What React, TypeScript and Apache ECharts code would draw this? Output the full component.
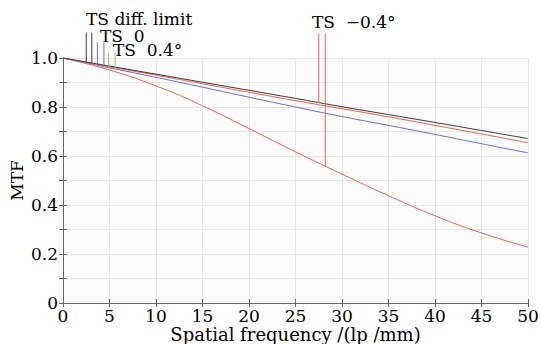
import React, { useEffect, useRef } from "react";
import * as echarts from "echarts";

// Spatial frequency (lp/mm)
const freq = [0, 5, 10, 15, 20, 25, 30, 35, 40, 45, 50];
// MTF curves
const diffLimit = [1.0, 0.967, 0.934, 0.901, 0.868, 0.835, 0.801, 0.769, 0.737, 0.704, 0.671];
const tsZero = [1.0, 0.960, 0.921, 0.881, 0.840, 0.800, 0.761, 0.725, 0.688, 0.650, 0.613];
const sMinus04 = [1.0, 0.964, 0.930, 0.895, 0.860, 0.826, 0.793, 0.760, 0.725, 0.690, 0.654];
const tMinus04 = [1.0, 0.951, 0.886, 0.805, 0.712, 0.617, 0.526, 0.438, 0.356, 0.286, 0.228];

// Legend marker lines (x position, top value, bottom value)
const diffMarkX = [2.5, 3.1];
const diffMarkBottom = [0.984, 0.98];
const diffMarkTop = 1.104;
const zeroMarkX = [3.7, 4.4];
const zeroMarkBottom = [0.972, 0.966];
const zeroMarkTop = 1.063;
const posMarkX = [4.9, 5.6];
const posMarkBottom = [0.962, 0.957];
const posMarkTop = 1.022;
const negMarkX = [27.5, 28.2];
const negMarkBottom = [0.815, 0.556];
const negMarkTop = 1.1;

const labels = ["TS diff. limit", "TS\u00a0\u00a00", "TS\u00a0\u00a00.4°", "TS\u00a0\u00a0\u22120.4°"];

const BLACK = "#3a3a3a";
const RED = "#f0604c";
const BLUE = "#6b6bcc";
const GREEN = "#86c986";
const FONT = '"DejaVu Serif", serif';

function curve(vals: number[]) {
  return freq.map((f, i) => [f, vals[i]]);
}

function markers(xs: number[], bottoms: number[], top: number, color: string, name: string) {
  return xs.map((x, i) => ({
    name: name + i,
    type: "line",
    data: [
      [x, top],
      [x, bottoms[i]],
    ],
    clip: false,
    symbol: "none",
    lineStyle: { color, width: 1 },
    z: 5,
  }));
}

export default function App() {
  const ref = useRef<HTMLDivElement>(null);
  useEffect(() => {
    document.body.style.margin = "0";
    const chart = echarts.init(ref.current!, undefined, { renderer: "svg" });
    const axisLine = { show: true, lineStyle: { color: "#666", width: 1 } };
    const tick = { show: true, inside: true, length: 4, lineStyle: { color: "#666" } };
    const labelStyle = { color: "#000", fontSize: 17, fontFamily: FONT };
    const tStyle = (text: string) => ({ text, font: "17px " + FONT, fill: "#000", lineHeight: 14 });
    chart.setOption({
      animation: false,
      backgroundColor: "#fff",
      grid: {
        left: 63,
        right: 13,
        top: 58,
        bottom: 41,
        show: true,
        backgroundColor: "#fbfbfb",
        borderWidth: 0,
        containLabel: false,
        outerBoundsMode: "none",
      },
      xAxis: [
        {
          type: "value",
          min: 0,
          max: 50,
          interval: 5,
          position: "bottom",
          axisLine,
          axisTick: tick,
          splitLine: { show: true, lineStyle: { color: "#e6e6e6", width: 1 } },
          axisLabel: { ...labelStyle, margin: 5, lineHeight: 15 },
          name: "Spatial frequency /(lp /mm)",
          nameLocation: "middle",
          nameGap: 23,
          nameMoveOverlap: false,
          nameTextStyle: { ...labelStyle, fontSize: 18, lineHeight: 17 },
        },
        {
          type: "value",
          min: 0,
          max: 50,
          interval: 5,
          position: "top",
          axisLine,
          axisTick: tick,
          splitLine: { show: false },
          axisLabel: { show: false },
        },
      ],
      yAxis: [
        {
          type: "value",
          min: 0,
          max: 1,
          interval: 0.1,
          position: "left",
          axisLine,
          axisTick: tick,
          splitLine: { show: true, lineStyle: { color: "#e6e6e6", width: 1 } },
          axisLabel: {
            ...labelStyle,
            margin: 5,
            formatter: (v: number) => {
              const k = Math.round(v * 10);
              if (k % 2 !== 0) return "";
              return k === 0 ? "0" : v.toFixed(1);
            },
          },
          name: "MTF",
          nameLocation: "middle",
          nameGap: 38,
          nameMoveOverlap: false,
          nameTextStyle: { ...labelStyle },
        },
        {
          type: "value",
          min: 0,
          max: 1,
          interval: 0.1,
          position: "right",
          axisLine,
          axisTick: tick,
          splitLine: { show: false },
          axisLabel: { show: false },
        },
      ],
      graphic: [
        { type: "text", left: 86, top: 10, style: tStyle(labels[0]) },
        { type: "text", left: 100, top: 27, style: tStyle(labels[1]) },
        { type: "text", left: 113, top: 41, style: tStyle(labels[2]) },
        { type: "text", left: 312, top: 13, style: tStyle(labels[3]) },
      ],
      series: [
        { name: "T -0.4", type: "line", data: curve(tMinus04), smooth: 0.5, symbol: "none", lineStyle: { color: RED, width: 1 } },
        { name: "TS 0", type: "line", data: curve(tsZero), smooth: 0.3, symbol: "none", lineStyle: { color: BLUE, width: 1 } },
        { name: "S -0.4", type: "line", data: curve(sMinus04), smooth: 0.3, symbol: "none", lineStyle: { color: RED, width: 1 } },
        { name: "diff", type: "line", data: curve(diffLimit), smooth: 0.3, symbol: "none", lineStyle: { color: BLACK, width: 1 } },
        ...markers(diffMarkX, diffMarkBottom, diffMarkTop, BLACK, "md"),
        ...markers(zeroMarkX, zeroMarkBottom, zeroMarkTop, BLUE, "mz"),
        ...markers(posMarkX, posMarkBottom, posMarkTop, GREEN, "mp"),
        ...markers(negMarkX, negMarkBottom, negMarkTop, RED, "mn"),
      ],
    });
    return () => chart.dispose();
  }, []);
  return <div ref={ref} style={{ width: 541, height: 344 }} />;
}
